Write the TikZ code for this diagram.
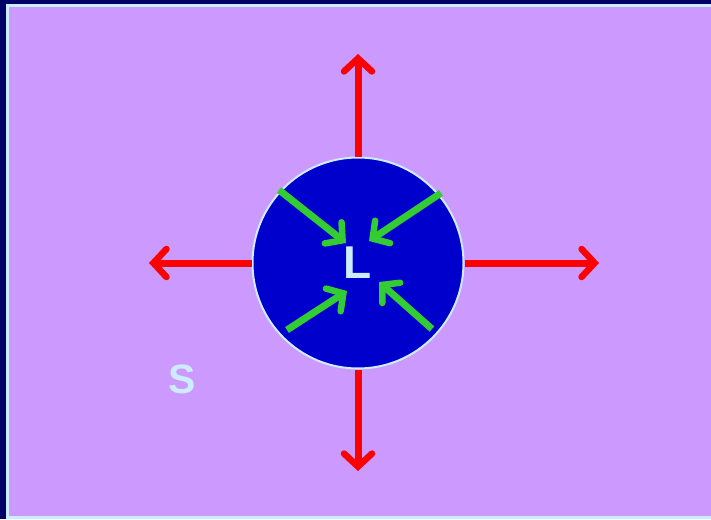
\documentclass[tikz,border=0pt]{standalone}
\usepackage{fontspec}
\setmainfont{Liberation Sans}
\usetikzlibrary{arrows.meta}
\definecolor{navy}{HTML}{000066}
\definecolor{lav}{HTML}{CC99FF}
\definecolor{pale}{HTML}{CCECFF}
\definecolor{disc}{HTML}{0000CC}
\definecolor{grn}{HTML}{33CC33}
\definecolor{rd}{HTML}{FF0000}
\tikzset{
  redarrow/.style={draw=rd, line width=7pt, -{Straight Barb[length=13pt,width=28pt,line width=6.5pt,line cap=round]}},
  greenarrow/.style={draw=grn, line width=7pt, -{Straight Barb[length=12pt,width=27pt,line width=6.5pt,line cap=round]}},
  lbl/.style={text=pale, font=\bfseries\fontsize{46}{46}\selectfont, inner sep=0pt}
}
\begin{document}
\begin{tikzpicture}[x=1pt,y=-1pt]
\useasboundingbox (0,0) rectangle (711,519);
\fill[navy] (0,0) rectangle (711,519);
\filldraw[fill=lav, draw=pale, line width=3pt] (7.5,5.5) rectangle (715,517.5);
\node[circle, fill=disc, draw=pale, line width=2pt, minimum size=211pt, inner sep=0pt] (C) at (358,263) {};
\node[lbl] (L) at (358,263) {L};
\node[lbl, font=\bfseries\fontsize{41}{41}\selectfont] (S) at (182,379) {S};
\coordinate (up) at (358,54);
\coordinate (dn) at (358,471);
\coordinate (lf) at (149,263);
\coordinate (rt) at (599,263);
\draw[redarrow] (C.north) -- (up);
\draw[redarrow] (C.south) -- (dn);
\draw[redarrow] (C.west) -- (lf);
\draw[redarrow] (C.east) -- (rt);
\coordinate (g1s) at (279,190); \coordinate (g1e) at (346,243);
\coordinate (g2s) at (441,193); \coordinate (g2e) at (369,241);
\coordinate (g3s) at (287,330); \coordinate (g3e) at (347,291);
\coordinate (g4s) at (432,329); \coordinate (g4e) at (379,282);
\draw[greenarrow] (g1s) -- (g1e);
\draw[greenarrow] (g2s) -- (g2e);
\draw[greenarrow] (g3s) -- (g3e);
\draw[greenarrow] (g4s) -- (g4e);
\end{tikzpicture}
\end{document}
